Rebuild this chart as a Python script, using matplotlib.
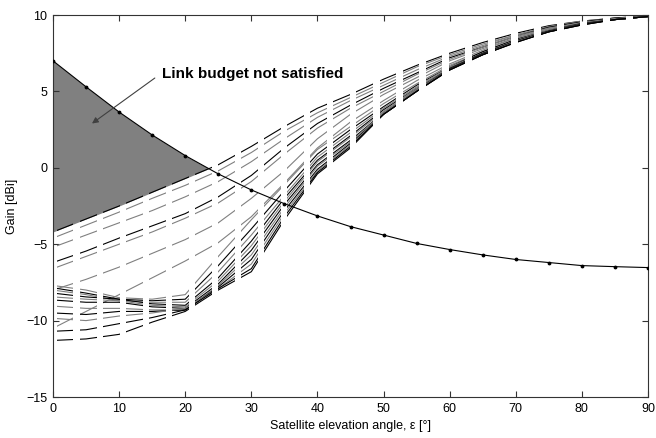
import numpy as np
import matplotlib
matplotlib.use("Agg")
import matplotlib.pyplot as plt
from matplotlib.path import Path

plt.rcParams['font.family'] = ['Liberation Sans', 'DejaVu Sans']

# elevation grid of the curves [deg]
elev = np.arange(0, 91, 5)

# required gain (link budget threshold) [dBi]
threshold = [7.0, 5.3, 3.65, 2.15, 0.8, -0.4, -1.45, -2.35, -3.15, -3.85,
             -4.4, -4.95, -5.35, -5.7, -6.0, -6.2, -6.4, -6.47, -6.53]

# antenna gain curves, upper (nearly straight) group
gain_u1 = [-4.2, -3.35, -2.5, -1.6, -0.7, 0.2, 1.4, 2.7, 3.9, 4.8, 5.8, 6.7, 7.5, 8.2, 8.8, 9.3, 9.6, 9.8, 9.95]
gain_u2 = [-4.6, -3.75, -2.9, -2.0, -1.15, -0.2, 1.0, 2.4, 3.6, 4.6, 5.6, 6.6, 7.4, 8.1, 8.7, 9.25, 9.6, 9.8, 9.95]
gain_u3 = [-5.2, -4.4, -3.6, -2.8, -1.9, -0.9, 0.4, 1.9, 3.3, 4.4, 5.4, 6.4, 7.3, 8.0, 8.7, 9.2, 9.55, 9.8, 9.9]
gain_u4 = [-6.2, -5.45, -4.6, -3.8, -3.0, -1.9, -0.5, 1.3, 2.9, 4.1, 5.2, 6.2, 7.2, 7.9, 8.6, 9.2, 9.55, 9.8, 9.9]
gain_u5 = [-6.6, -5.8, -5.0, -4.2, -3.3, -2.3, -0.9, 0.9, 2.6, 3.9, 5.0, 6.1, 7.1, 7.9, 8.6, 9.15, 9.5, 9.75, 9.9]
gain_u6 = [-8.0, -7.3, -6.5, -5.6, -4.7, -3.6, -2.0, -0.2, 1.9, 3.5, 4.8, 5.9, 7.0, 7.8, 8.5, 9.1, 9.5, 9.75, 9.9]
gain_u7 = [-10.5, -9.4, -8.3, -7.2, -6.1, -4.9, -3.2, -1.0, 1.3, 3.0, 4.4, 5.7, 6.8, 7.7, 8.5, 9.1, 9.45, 9.75, 9.9]

# lower group (dip at low elevation, then steep rise)
gain_l1 = [-7.7, -8.0, -8.5, -8.6, -8.3, -5.8, -3.4, -1.1, 1.2, 2.7, 4.2, 5.5, 6.7, 7.6, 8.4, 9.0, 9.45, 9.7, 9.9]
gain_l2 = [-7.85, -8.2, -8.6, -8.7, -8.6, -6.4, -4.0, -1.5, 0.9, 2.5, 4.0, 5.4, 6.6, 7.6, 8.4, 9.0, 9.45, 9.7, 9.9]
gain_l3 = [-8.0, -8.3, -8.7, -8.8, -8.8, -6.8, -4.4, -1.8, 0.7, 2.3, 3.9, 5.3, 6.6, 7.5, 8.35, 9.0, 9.4, 9.7, 9.9]
gain_l4 = [-8.2, -8.45, -8.6, -8.9, -9.0, -7.2, -4.8, -2.0, 0.5, 2.1, 3.8, 5.2, 6.5, 7.5, 8.3, 8.95, 9.4, 9.7, 9.9]
gain_l5 = [-8.45, -8.6, -8.7, -9.0, -9.1, -7.4, -5.1, -2.2, 0.4, 2.0, 3.7, 5.2, 6.5, 7.45, 8.3, 8.95, 9.4, 9.7, 9.9]
gain_l6 = [-8.65, -8.8, -8.8, -9.1, -9.2, -7.6, -5.4, -2.4, 0.2, 1.8, 3.6, 5.1, 6.5, 7.45, 8.3, 8.95, 9.4, 9.7, 9.9]
gain_l7 = [-9.05, -9.2, -9.2, -9.3, -9.3, -7.7, -5.7, -2.6, 0.1, 1.7, 3.6, 5.1, 6.45, 7.4, 8.25, 8.9, 9.4, 9.7, 9.9]
gain_l8 = [-9.5, -9.6, -9.4, -9.4, -9.3, -7.8, -6.0, -2.8, -0.1, 1.6, 3.5, 5.0, 6.45, 7.4, 8.25, 8.9, 9.4, 9.7, 9.9]
gain_l9 = [-9.85, -10.0, -9.7, -9.5, -9.2, -7.9, -6.3, -3.0, -0.2, 1.5, 3.5, 5.0, 6.4, 7.4, 8.25, 8.9, 9.35, 9.7, 9.9]
gain_l10 = [-10.7, -10.6, -10.2, -9.8, -9.3, -7.9, -6.6, -3.2, -0.3, 1.4, 3.5, 5.0, 6.4, 7.4, 8.2, 8.9, 9.35, 9.7, 9.9]
gain_l11 = [-11.3, -11.2, -10.9, -10.1, -9.4, -8.0, -6.8, -3.4, -0.4, 1.3, 3.5, 5.0, 6.4, 7.4, 8.2, 8.9, 9.35, 9.7, 9.9]

curves = [gain_u1, gain_u2, gain_u3, gain_u4, gain_u5, gain_u6, gain_u7,
          gain_l1, gain_l2, gain_l3, gain_l4, gain_l5, gain_l6, gain_l7,
          gain_l8, gain_l9, gain_l10, gain_l11]
shades = ['black', '#808080', '#808080', 'black', '#808080', '#808080', '#808080',
          '#808080', 'black', '#808080', 'black', '#808080', 'black', '#808080',
          'black', '#808080', 'black', 'black']

fig = plt.figure(figsize=(6.56, 4.38), dpi=100)
ax = fig.add_axes([53 / 656, 1 - 397 / 438, 595 / 656, 382 / 438])

# shaded region: gain below the required gain
n = 6
thr = np.array(threshold[:n])
top = np.array(gain_u1[:n])
ax.fill_between(elev[:n], thr, top, where=thr >= top, interpolate=True,
                color='#808080', linewidth=0, zorder=1)

# dashes of the old plot are aligned in x: clip solid lines to vertical stripes
verts, codes = [], []
x0 = 0.6
while x0 < 90:
    x1 = x0 + 2.5
    verts += [(x0, -20), (x1, -20), (x1, 20), (x0, 20), (x0, -20)]
    codes += [Path.MOVETO, Path.LINETO, Path.LINETO, Path.LINETO, Path.CLOSEPOLY]
    x0 += 3.485
stripes = Path(verts, codes)

for g, c in zip(curves, shades):
    ln, = ax.plot(elev, g, color=c, lw=0.8, zorder=2)
    ln.set_clip_path(stripes, ax.transData)

ax.plot(elev, threshold, '-', color='black', lw=0.8, marker='.', markersize=3.5, zorder=3)

ax.annotate('Link budget not satisfied', xy=(5.9, 2.9), xytext=(16.5, 6.15),
            fontsize=11, fontweight='bold', va='center', ha='left',
            arrowprops=dict(arrowstyle='-|>', color='#404040', lw=0.8,
                            mutation_scale=9, shrinkA=0, shrinkB=0,
                            relpos=(-0.04, 0.2)))

ax.set_xlim(0, 90)
ax.set_ylim(-15, 10)
ax.set_xticks(np.arange(0, 91, 10))
ax.set_yticks(np.arange(-15, 11, 5))
ax.tick_params(direction='in', length=4, width=0.8, top=True, right=True,
               labelsize=9, color='#333333', pad=4)
for s in ax.spines.values():
    s.set_color('#333333')
    s.set_linewidth(0.8)

ax.set_xlabel('Satellite elevation angle, ε [°]', fontsize=9, labelpad=4)
ax.set_ylabel('Gain [dBi]', fontsize=9, labelpad=6)

fig.savefig('out.png', dpi=100)
